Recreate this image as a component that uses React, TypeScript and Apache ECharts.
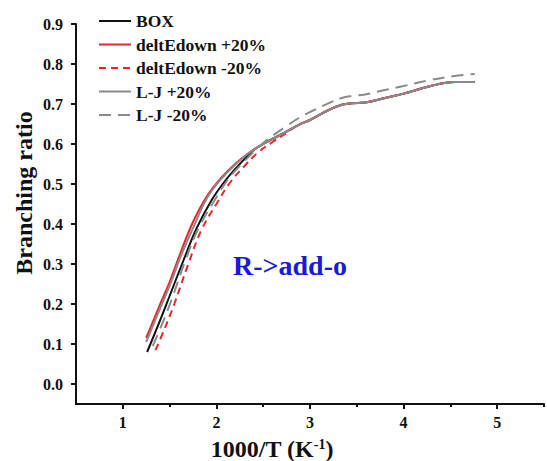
import React, { useEffect, useRef } from "react";
import * as echarts from "echarts";

const seriesNames = ["BOX", "deltEdown +20%", "deltEdown -20%", "L-J +20%", "L-J -20%"];

const boxX = [1.26, 1.4, 1.5, 1.65, 1.79, 1.95, 2.1, 2.25, 2.4, 2.5, 2.7, 2.88, 3.0, 3.2, 3.34, 3.45, 3.59, 3.8, 4.0, 4.29, 4.54, 4.76];
const boxY = [0.08, 0.16, 0.22, 0.31, 0.39, 0.46, 0.51, 0.55, 0.585, 0.6, 0.625, 0.648, 0.66, 0.685, 0.698, 0.702, 0.704, 0.715, 0.726, 0.745, 0.755, 0.755];

const redSolidX = [1.25, 1.4, 1.5, 1.62, 1.75, 1.9, 2.05, 2.2, 2.35, 2.5, 2.7, 2.88, 3.0, 3.2, 3.34, 3.45, 3.59, 3.8, 4.0, 4.29, 4.54, 4.76];
const redSolidY = [0.115, 0.2, 0.255, 0.33, 0.405, 0.47, 0.515, 0.55, 0.578, 0.6, 0.625, 0.648, 0.66, 0.685, 0.698, 0.702, 0.704, 0.715, 0.726, 0.745, 0.755, 0.755];

const redDashX = [1.35, 1.45, 1.55, 1.7, 1.84, 2.0, 2.15, 2.3, 2.45, 2.6, 2.75, 2.88, 3.0, 3.2, 3.34, 3.45, 3.59, 3.8, 4.0, 4.29, 4.54, 4.76];
const redDashY = [0.085, 0.14, 0.2, 0.3, 0.385, 0.45, 0.505, 0.545, 0.58, 0.605, 0.628, 0.648, 0.66, 0.685, 0.698, 0.702, 0.704, 0.715, 0.726, 0.745, 0.755, 0.755];

const ljPlusX = [1.25, 1.4, 1.5, 1.62, 1.77, 1.9, 2.05, 2.2, 2.35, 2.5, 2.7, 2.88, 3.0, 3.2, 3.34, 3.45, 3.59, 3.8, 4.0, 4.29, 4.54, 4.76];
const ljPlusY = [0.105, 0.19, 0.245, 0.32, 0.4, 0.465, 0.512, 0.548, 0.578, 0.6, 0.625, 0.648, 0.66, 0.685, 0.698, 0.702, 0.704, 0.715, 0.726, 0.745, 0.755, 0.755];

const ljMinusX = [1.32, 1.42, 1.52, 1.67, 1.81, 1.97, 2.12, 2.27, 2.42, 2.55, 2.75, 2.88, 3.0, 3.2, 3.34, 3.45, 3.59, 3.8, 4.0, 4.29, 4.54, 4.76];
const ljMinusY = [0.095, 0.15, 0.21, 0.31, 0.39, 0.455, 0.51, 0.55, 0.585, 0.612, 0.645, 0.665, 0.68, 0.702, 0.715, 0.72, 0.724, 0.735, 0.745, 0.76, 0.77, 0.775];

const yTicks = [0, 0.1, 0.2, 0.3, 0.4, 0.5, 0.6, 0.7, 0.8, 0.9];
const xTicks = [1, 2, 3, 4, 5];
const xMinorTicks = [1.5, 2.5, 3.5, 4.5, 5.5];

const zip = (xs: number[], ys: number[]) => xs.map((x, i) => [x, ys[i]]);

const FONT = "'Liberation Serif', 'Times New Roman', serif";

export default function App() {
  const ref = useRef<HTMLDivElement>(null);
  useEffect(() => {
    if (!ref.current) return;
    const chart = echarts.init(ref.current, undefined, { renderer: "svg" });
    const colors = ["#111111", "#e8262a", "#e8262a", "#8a8a8a", "#8a8a8a"];
    const types: any[] = ["solid", "solid", [7, 5], "solid", [12, 7]];
    const data = [
      zip(boxX, boxY),
      zip(redSolidX, redSolidY),
      zip(redDashX, redDashY),
      zip(ljPlusX, ljPlusY),
      zip(ljMinusX, ljMinusY),
    ];
    const isOn = (v: number, list: number[]) => list.some((t) => Math.abs(t - v) < 1e-6);
    chart.setOption({
      animation: false,
      backgroundColor: "#ffffff",
      textStyle: { fontFamily: FONT, fontWeight: "bold", color: "#111" },
      grid: { left: 76, right: 0, top: 24, bottom: 57, containLabel: false },
      legend: {
        orient: "vertical",
        left: 93,
        top: 7,
        itemWidth: 32,
        itemHeight: 14,
        itemGap: 5.5,
        itemStyle: { opacity: 0 },
        data: seriesNames,
        textStyle: { fontFamily: FONT, fontWeight: "bold", fontSize: 17.5, color: "#111" },
      },
      xAxis: [
        {
          type: "value",
          min: 0.5,
          max: 5.5,
          interval: 0.5,
          position: "bottom",
          axisLine: { show: true, onZero: false, lineStyle: { color: "#111", width: 2 } },
          axisTick: { show: true, customValues: xTicks, length: 5, lineStyle: { color: "#111", width: 2 } },
          axisLabel: {
            show: true,
            margin: 10,
            formatter: (v: number) => (isOn(v, xTicks) ? String(Math.round(v)) : ""),
            fontFamily: FONT,
            fontWeight: "bold",
            fontSize: 16,
            color: "#111",
          },
          splitLine: { show: false },
        },
        {
          type: "value",
          min: 0.5,
          max: 5.5,
          position: "bottom",
          axisLine: { show: false, onZero: false },
          axisTick: { show: true, customValues: xMinorTicks, length: 3, lineStyle: { color: "#111", width: 2 } },
          axisLabel: { show: false },
          splitLine: { show: false },
        },
      ],
      yAxis: {
        type: "value",
        min: -0.05,
        max: 0.9,
        interval: 0.05,
        axisLine: { show: true, onZero: false, lineStyle: { color: "#111", width: 2 } },
        axisTick: { show: true, customValues: yTicks, length: 5, lineStyle: { color: "#111", width: 2 } },
        axisLabel: {
          show: true,
          margin: 13,
          formatter: (v: number) => (isOn(v, yTicks) ? v.toFixed(1) : ""),
          fontFamily: FONT,
          fontWeight: "bold",
          fontSize: 16,
          color: "#111",
        },
        splitLine: { show: false },
      },
      series: seriesNames.map((name, i) => ({
        name,
        type: "line",
        data: data[i],
        smooth: 0.4,
        symbol: "none",
        color: colors[i],
        lineStyle: { color: colors[i], width: 2, type: types[i] },
        z: 2 + i,
      })),
      graphic: [
        {
          type: "text",
          x: 24,
          y: 193,
          rotation: Math.PI / 2,
          style: {
            text: "Branching ratio",
            fontFamily: FONT,
            fontWeight: "bold",
            fontSize: 24,
            fill: "#111",
            align: "center",
            verticalAlign: "middle",
          },
        },
        {
          type: "text",
          x: 272,
          y: 449,
          style: {
            text: "1000/T (K{sup|-1})",
            fontFamily: FONT,
            fontWeight: "bold",
            fontSize: 24,
            fill: "#111",
            align: "center",
            verticalAlign: "middle",
            rich: {
              sup: { fontFamily: FONT, fontWeight: "bold", fontSize: 14, fill: "#111", verticalAlign: "top" },
            },
          },
        },
        {
          type: "text",
          x: 290,
          y: 265,
          style: {
            text: "R->add-o",
            fontFamily: FONT,
            fontWeight: "bold",
            fontSize: 28,
            fill: "#1a1ad6",
            align: "center",
            verticalAlign: "middle",
          },
        },
      ],
    });
    return () => chart.dispose();
  }, []);
  return <div ref={ref} style={{ width: 547, height: 461, position: "fixed", left: 0, top: 0 }} />;
}
